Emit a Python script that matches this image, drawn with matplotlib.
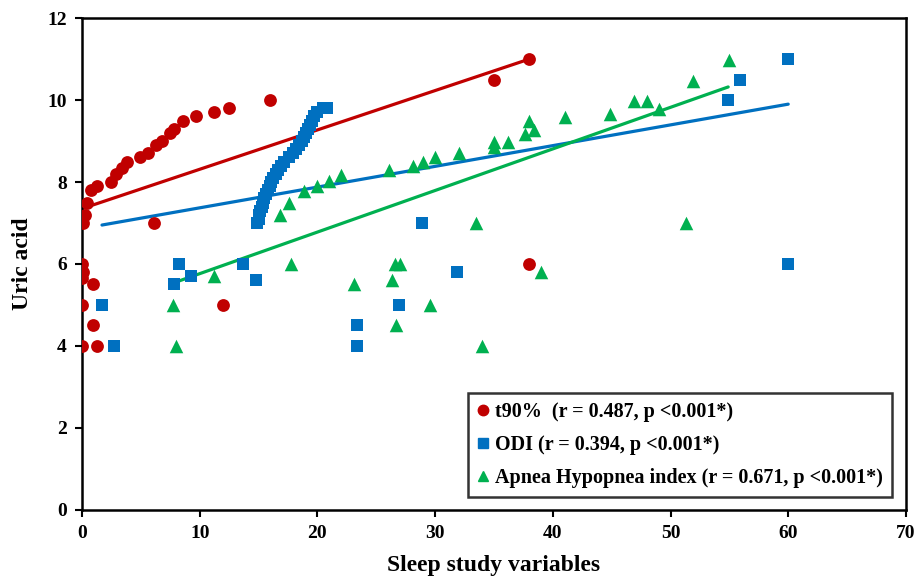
import matplotlib
matplotlib.use("Agg")
import matplotlib.pyplot as plt
from matplotlib.lines import Line2D

# ---- data ----
t90_x = [0.1, 0.25, 0.4, 0.8, 1.25, 2.5, 2.9, 3.4, 3.8, 4.9, 5.6, 6.3, 6.8, 7.5, 7.8, 8.6, 9.7, 11.2, 12.5,
         6.1, 16.0, 35.0, 38.0, 38.0, 12.0,
         0.0, 0.1, 0.0, 0.9, 0.0, 0.9, 0.0, 1.3]
t90_y = [7.0, 7.2, 7.5, 7.8, 7.9, 8.0, 8.2, 8.35, 8.5, 8.6, 8.7, 8.9, 9.0, 9.2, 9.3, 9.5, 9.6, 9.7, 9.8,
         7.0, 10.0, 10.5, 11.0, 6.0, 5.0,
         6.0, 5.8, 5.65, 5.5, 5.0, 4.5, 4.0, 4.0]

odi_x = [14.9, 15.0, 15.05, 15.15, 15.3, 15.4, 15.5, 15.65, 15.8, 15.95, 16.1, 16.25, 16.45, 16.65, 16.9,
         17.2, 17.55, 17.9, 18.15, 18.4, 18.65, 18.9, 19.05, 19.2, 19.35, 19.5, 19.7, 20.0, 20.5, 20.8,
         8.2, 9.3, 7.8, 1.7, 2.7, 13.7, 14.8,
         28.9, 31.9, 26.9, 23.4, 23.4, 54.9, 55.9, 60.0, 60.0]
odi_y = [7.0, 7.1, 7.2, 7.3, 7.4, 7.5, 7.6, 7.7, 7.8, 7.9, 8.0, 8.1, 8.2, 8.3, 8.4,
         8.5, 8.6, 8.7, 8.8, 8.9, 9.0, 9.1, 9.2, 9.3, 9.4, 9.5, 9.6, 9.7, 9.8, 9.8,
         6.0, 5.7, 5.5, 5.0, 4.0, 6.0, 5.6,
         7.0, 5.8, 5.0, 4.5, 4.0, 10.0, 10.5, 11.0, 6.0]

ahi_x = [7.7, 8.0, 11.2, 16.8, 17.6, 18.9, 20.0, 21.0, 22.0, 17.8, 23.1,
         26.1, 28.1, 29.0, 30.0, 32.0, 35.0, 35.0, 36.2, 37.6, 38.0, 38.4, 41.0,
         33.5, 26.6, 27.0, 26.3, 29.6, 26.7, 34.0, 39.0,
         44.9, 46.9, 48.0, 49.0, 51.9, 55.0, 51.3]
ahi_y = [5.0, 4.0, 5.7, 7.2, 7.48, 7.77, 7.9, 8.03, 8.17, 6.0, 5.5,
         8.3, 8.4, 8.5, 8.6, 8.7, 8.86, 8.98, 8.98, 9.16, 9.5, 9.28, 9.58,
         7.0, 6.0, 6.0, 5.6, 5.0, 4.5, 4.0, 5.8,
         9.67, 9.98, 9.98, 9.78, 10.47, 10.98, 7.0]

# trend line end points
t90_fit_x = [0.0, 38.0]
t90_fit_y = [7.35, 11.0]
odi_fit_x = [1.7, 60.0]
odi_fit_y = [6.95, 9.9]
ahi_fit_x = [7.7, 54.9]
ahi_fit_y = [5.53, 10.32]

labels = ["t90%  (r = 0.487, p <0.001*)",
          "ODI (r = 0.394, p <0.001*)",
          "Apnea Hypopnea index (r = 0.671, p <0.001*)"]

x_ticks = [0, 10, 20, 30, 40, 50, 60, 70]
y_ticks = [0, 2, 4, 6, 8, 10, 12]

RED = "#C00000"
BLUE = "#0070C0"
GREEN = "#00B050"

plt.rcParams['font.family'] = ['Liberation Serif', 'DejaVu Serif']
plt.rcParams['font.weight'] = 'bold'

fig = plt.figure(figsize=(9.16, 5.84), dpi=100)
ax = fig.add_axes([0.0895, 0.127, 0.8995, 0.842])

ax.plot(t90_fit_x, t90_fit_y, color=RED, lw=2.3, solid_capstyle='round', zorder=2)
ax.plot(odi_fit_x, odi_fit_y, color=BLUE, lw=2.3, solid_capstyle='round', zorder=2)
ax.plot(ahi_fit_x, ahi_fit_y, color=GREEN, lw=2.3, solid_capstyle='round', zorder=2)

ax.scatter(ahi_x, ahi_y, marker='^', s=95, color=GREEN, linewidths=0, zorder=3)
ax.scatter(odi_x, odi_y, marker='s', s=70, color=BLUE, linewidths=0, zorder=3)
ax.scatter(t90_x, t90_y, marker='o', s=85, color=RED, linewidths=0, zorder=4)

ax.set_xlim(0, 70)
ax.set_ylim(0, 12)
ax.set_xticks(x_ticks)
ax.set_yticks(y_ticks)
ax.tick_params(direction='out', length=5, width=1.5, labelsize=14, pad=6)
for lab in ax.get_xticklabels() + ax.get_yticklabels():
    lab.set_fontweight('bold')
for s in ax.spines.values():
    s.set_linewidth(1.8)
    s.set_color('black')

ax.set_xlabel("Sleep study variables", fontsize=17, fontweight='bold', labelpad=9)
ax.set_ylabel("Uric acid", fontsize=17, fontweight='bold', labelpad=10)

handles = [Line2D([], [], marker='o', color=RED, ls='none', markersize=7.5),
           Line2D([], [], marker='s', color=BLUE, ls='none', markersize=7),
           Line2D([], [], marker='^', color=GREEN, ls='none', markersize=7.5)]
leg = ax.legend(handles, labels, loc='lower right', bbox_to_anchor=(0.983, 0.026),
                borderaxespad=0,
                prop={'family': 'Liberation Serif', 'weight': 'bold', 'size': 14.5},
                frameon=True, fancybox=False, edgecolor='black', handlelength=0.6,
                handletextpad=0.3, borderpad=0.45, labelspacing=0.65)
leg.get_frame().set_linewidth(1.8)

fig.savefig("out.png", dpi=100)
